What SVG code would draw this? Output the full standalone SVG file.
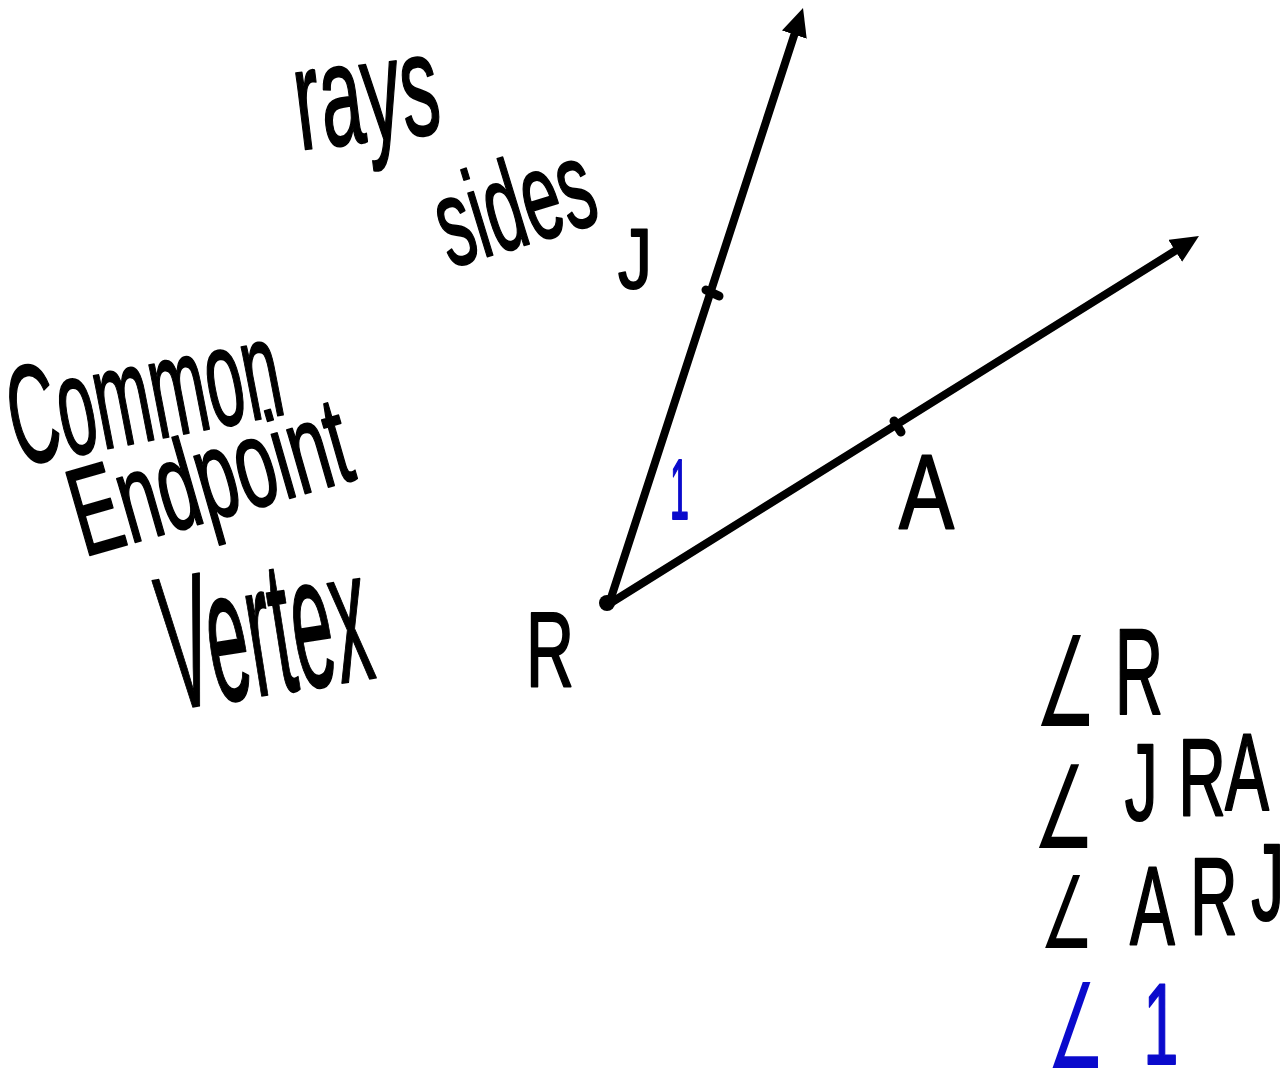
<svg xmlns="http://www.w3.org/2000/svg" width="1288" height="1079" viewBox="0 0 1288 1079">
<style>
.hw{font-family:"Liberation Sans",Arial,sans-serif;fill:#000;stroke:#000;stroke-width:2;stroke-linejoin:round}
.blue{fill:#0a0acc;stroke:#0a0acc}
.ang{font-family:"DejaVu Sans",sans-serif;stroke-width:0}
.ray{stroke:#000;stroke-width:8;stroke-linecap:round;fill:none}
.tick{stroke:#000;stroke-width:9;stroke-linecap:round}
</style>
<defs>
<marker id="arrow" viewBox="0 0 28 26" refX="4" refY="13" markerWidth="28" markerHeight="26" markerUnits="userSpaceOnUse" orient="auto">
<path d="M0,0 L28,13 L0,26 Z" fill="#000"/>
</marker>
</defs>
<rect width="1288" height="1079" fill="#fff"/>
<g id="connectors">
<path class="ray" d="M609,604 L795.6,30.8" marker-end="url(#arrow)"/>
<path class="ray" d="M609,604 L1178.6,248.7" marker-end="url(#arrow)"/>
</g>
<g id="vertex-R">
<circle cx="607" cy="603" r="8" fill="#000"/>
<text class="hw" x="0" y="0" font-size="105" transform="translate(526 686) scale(0.633 1)">R</text>
</g>
<g id="point-J">
<line class="tick" x1="706" y1="290" x2="719" y2="296"/>
<text class="hw" x="0" y="0" font-size="85" transform="translate(618 288) scale(0.8 1)">J</text>
</g>
<g id="point-A">
<line class="tick" x1="894" y1="421" x2="901" y2="432"/>
<text class="hw" x="0" y="0" font-size="105" transform="translate(899 528) scale(0.786 1)">A</text>
</g>
<g id="angle-label-1">
<text class="hw blue" x="0" y="0" font-size="85" transform="translate(670 519) scale(0.4 1)">1</text>
</g>
<g id="label-rays">
<text class="hw" x="0" y="0" font-size="145" transform="translate(300 150) rotate(-7) scale(0.529 1)">rays</text>
</g>
<g id="label-sides">
<text class="hw" x="0" y="0" font-size="125" transform="translate(450 268) rotate(-17) scale(0.548 1)">sides</text>
</g>
<g id="label-common">
<text class="hw" x="0" y="0" font-size="140" transform="translate(18 466) rotate(-11) scale(0.484 1)">Common</text>
</g>
<g id="label-endpoint">
<text class="hw" x="0" y="0" font-size="125" transform="translate(84 557) rotate(-16) scale(0.578 1)">Endpoint</text>
</g>
<g id="label-vertex">
<text class="hw" x="0" y="0" font-size="190" transform="translate(172 710) rotate(-9) scale(0.386 1)">Vertex</text>
</g>
<g id="name-1">
<text class="hw" transform="translate(1035 0) scale(0.55 1)"><tspan class="ang" x="0" y="726" font-size="125">∠</tspan><tspan x="145" y="714" font-size="122">R</tspan></text>
</g>
<g id="name-2">
<text class="hw" transform="translate(1033 0) scale(0.6 1)"><tspan class="ang" x="0" y="848" font-size="115">∠</tspan><tspan x="153" y="820" font-size="110">J</tspan><tspan x="242" y="815" font-size="110">R</tspan><tspan x="320" y="810" font-size="110">A</tspan></text>
</g>
<g id="name-3">
<text class="hw" transform="translate(1040 0) scale(0.6 1)"><tspan class="ang" x="0" y="948" font-size="100">∠</tspan><tspan x="150" y="944" font-size="112">A</tspan><tspan x="250" y="934" font-size="110">R</tspan><tspan x="352" y="920" font-size="110">J</tspan></text>
</g>
<g id="name-4">
<text class="hw blue" transform="translate(1047 0) scale(0.55 1)"><tspan class="ang" x="0" y="1068" font-size="118">∠</tspan><tspan x="175" y="1064" font-size="115">1</tspan></text>
</g>
</svg>
